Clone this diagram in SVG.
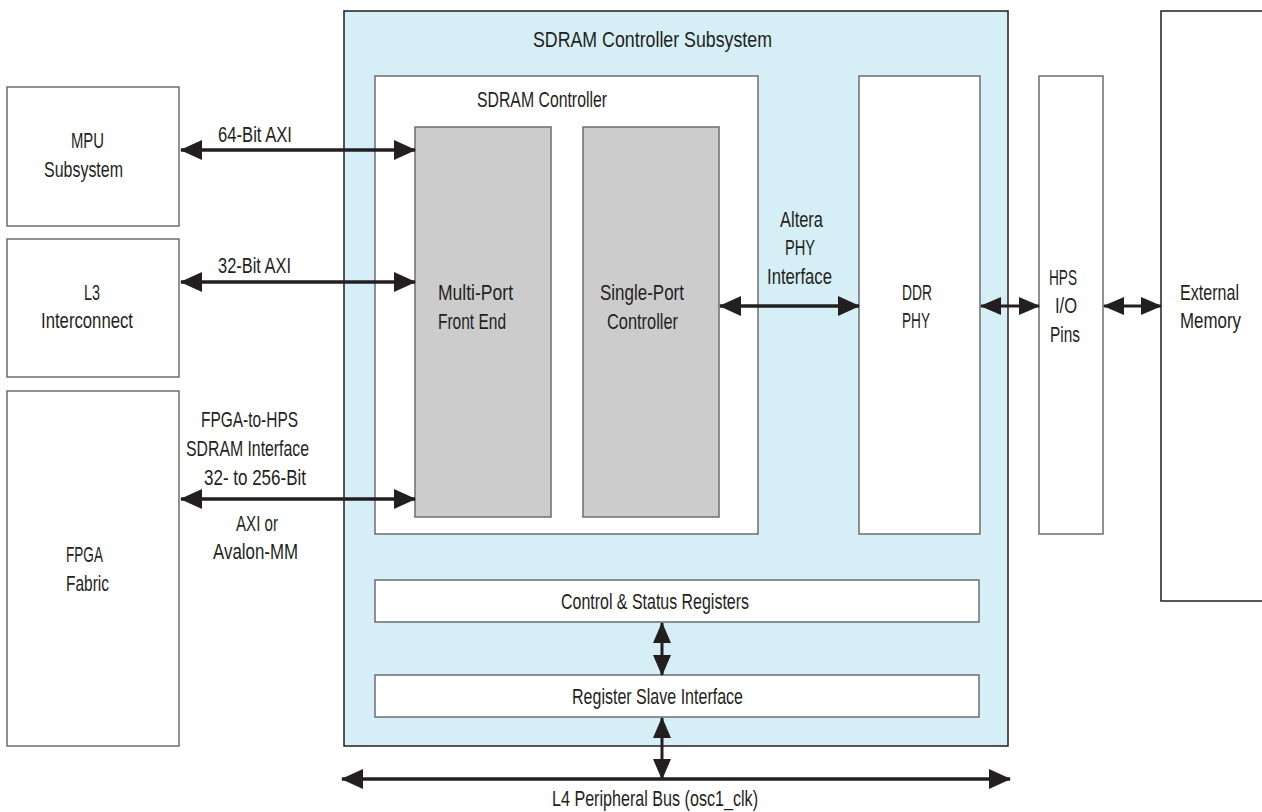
<svg xmlns="http://www.w3.org/2000/svg" width="1262" height="812" viewBox="0 0 1262 812">
<defs>
<style>
.box{fill:#ffffff;stroke:#6d6e71;stroke-width:1.5}
.dark{stroke:#231f20}
.grey{fill:#cccccc;stroke:#6d6e71;stroke-width:1.5}
.sub{fill:#d6eef5;stroke:#231f20;stroke-width:1.5}
.t{font-family:"Liberation Sans",Arial,sans-serif;font-size:22px;fill:#231f20}
.c{fill:none;stroke:#231f20;stroke-width:3.5;marker-start:url(#ah);marker-end:url(#ah)}
.cs{fill:none;stroke:#231f20;stroke-width:3;marker-start:url(#ahs);marker-end:url(#ahs)}
</style>
<marker id="ah" viewBox="0 0 22 20" refX="21" refY="10" markerWidth="22" markerHeight="20" markerUnits="userSpaceOnUse" orient="auto-start-reverse">
<path d="M0,0 L22,10 L0,20 Z" fill="#231f20"/>
</marker>
<marker id="ahs" viewBox="0 0 21 18" refX="20" refY="9" markerWidth="21" markerHeight="18" markerUnits="userSpaceOnUse" orient="auto-start-reverse">
<path d="M0,0 L21,9 L0,18 Z" fill="#231f20"/>
</marker>
</defs>
<rect width="1262" height="812" fill="#ffffff"/>

<g id="subsystem">
<rect class="sub" x="344" y="11" width="664" height="735"/>
<text class="t" x="533" y="47" textLength="239" lengthAdjust="spacingAndGlyphs">SDRAM Controller Subsystem</text>
</g>

<g id="sdram-controller">
<rect class="box" x="375" y="76" width="383" height="458"/>
<text class="t" x="477" y="107" textLength="130" lengthAdjust="spacingAndGlyphs">SDRAM Controller</text>
</g>

<g id="multi-port">
<rect class="grey" x="415" y="127" width="136" height="390"/>
<text class="t" x="438" y="300" textLength="75" lengthAdjust="spacingAndGlyphs">Multi-Port</text>
<text class="t" x="438" y="329" textLength="68" lengthAdjust="spacingAndGlyphs">Front End</text>
</g>

<g id="single-port">
<rect class="grey" x="583" y="127" width="136" height="390"/>
<text class="t" x="600" y="300" textLength="84" lengthAdjust="spacingAndGlyphs">Single-Port</text>
<text class="t" x="607" y="329" textLength="71" lengthAdjust="spacingAndGlyphs">Controller</text>
</g>

<g id="ddr-phy">
<rect class="box" x="859" y="76" width="121" height="458"/>
<text class="t" x="902" y="300" textLength="30" lengthAdjust="spacingAndGlyphs">DDR</text>
<text class="t" x="902" y="328" textLength="28" lengthAdjust="spacingAndGlyphs">PHY</text>
</g>

<g id="hps-pins">
<rect class="box" x="1039" y="76" width="64" height="458"/>
<text class="t" x="1049" y="285" textLength="28" lengthAdjust="spacingAndGlyphs">HPS</text>
<text class="t" x="1055" y="313" textLength="22" lengthAdjust="spacingAndGlyphs">I/O</text>
<text class="t" x="1050" y="342" textLength="30" lengthAdjust="spacingAndGlyphs">Pins</text>
</g>

<g id="external-memory">
<rect class="box dark" x="1161" y="11" width="120" height="590"/>
<text class="t" x="1180" y="300" textLength="59" lengthAdjust="spacingAndGlyphs">External</text>
<text class="t" x="1180" y="328" textLength="61" lengthAdjust="spacingAndGlyphs">Memory</text>
</g>

<g id="mpu">
<rect class="box" x="7" y="87" width="172" height="139"/>
<text class="t" x="71" y="148" textLength="33" lengthAdjust="spacingAndGlyphs">MPU</text>
<text class="t" x="44" y="177" textLength="79" lengthAdjust="spacingAndGlyphs">Subsystem</text>
</g>

<g id="l3">
<rect class="box" x="7" y="239" width="172" height="138"/>
<text class="t" x="84" y="300" textLength="16" lengthAdjust="spacingAndGlyphs">L3</text>
<text class="t" x="41" y="328" textLength="92" lengthAdjust="spacingAndGlyphs">Interconnect</text>
</g>

<g id="fpga">
<rect class="box" x="7" y="391" width="172" height="355"/>
<text class="t" x="66" y="562" textLength="37" lengthAdjust="spacingAndGlyphs">FPGA</text>
<text class="t" x="66" y="591" textLength="43" lengthAdjust="spacingAndGlyphs">Fabric</text>
</g>

<g id="csr">
<rect class="box" x="375" y="580" width="604" height="42"/>
<text class="t" x="561" y="609" textLength="188" lengthAdjust="spacingAndGlyphs">Control &amp; Status Registers</text>
</g>

<g id="rsi">
<rect class="box" x="375" y="675" width="604" height="42"/>
<text class="t" x="572" y="704" textLength="171" lengthAdjust="spacingAndGlyphs">Register Slave Interface</text>
</g>

<g id="connectors">
<line class="c" x1="181" y1="150" x2="415" y2="150"/>
<line class="c" x1="181" y1="282" x2="415" y2="282"/>
<line class="c" x1="181" y1="499" x2="415" y2="499"/>
<line class="c" x1="720" y1="306" x2="859" y2="306"/>
<line class="cs" x1="981" y1="306" x2="1039" y2="306"/>
<line class="cs" x1="1104" y1="306" x2="1161" y2="306"/>
<line class="cs" x1="662" y1="623" x2="662" y2="675"/>
<line class="cs" x1="662" y1="718" x2="662" y2="779"/>
<line class="c" x1="342" y1="779" x2="1010" y2="779"/>
<text class="t" x="218" y="142" textLength="74" lengthAdjust="spacingAndGlyphs">64-Bit AXI</text>
<text class="t" x="218" y="273" textLength="73" lengthAdjust="spacingAndGlyphs">32-Bit AXI</text>
<text class="t" x="201" y="427" textLength="97" lengthAdjust="spacingAndGlyphs">FPGA-to-HPS</text>
<text class="t" x="186" y="456" textLength="123" lengthAdjust="spacingAndGlyphs">SDRAM Interface</text>
<text class="t" x="204" y="485" textLength="102" lengthAdjust="spacingAndGlyphs">32- to 256-Bit</text>
<text class="t" x="236" y="531" textLength="42" lengthAdjust="spacingAndGlyphs">AXI or</text>
<text class="t" x="213" y="559" textLength="85" lengthAdjust="spacingAndGlyphs">Avalon-MM</text>
<text class="t" x="780" y="227" textLength="43" lengthAdjust="spacingAndGlyphs">Altera</text>
<text class="t" x="785" y="255" textLength="30" lengthAdjust="spacingAndGlyphs">PHY</text>
<text class="t" x="767" y="284" textLength="65" lengthAdjust="spacingAndGlyphs">Interface</text>
<text class="t" x="552" y="806" textLength="206" lengthAdjust="spacingAndGlyphs">L4 Peripheral Bus (osc1_clk)</text>
</g>
</svg>
